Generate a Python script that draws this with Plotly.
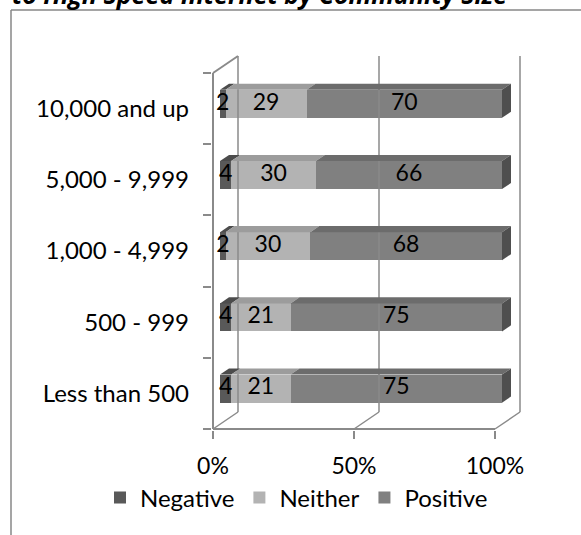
import plotly.graph_objects as go

# ---------------- data ----------------
categories = ["Less than 500", "500 - 999", "1,000 - 4,999", "5,000 - 9,999", "10,000 and up"]
series_names = ["Negative", "Neither", "Positive"]
negative = [4, 4, 2, 4, 2]
neither = [21, 21, 30, 30, 29]
positive = [75, 75, 68, 66, 70]
x_tick_vals = [0, 50, 100]
x_tick_text = ["0%", "50%", "100%"]
title_text = "to High Speed Internet by Community Size"

# ---------------- styling / geometry ----------------
front_colors = ["#595959", "#b3b3b3", "#808080"]
top_colors = ["#4c4c4c", "#9c9c9c", "#6c6c6c"]
side_color = "#4f4f4f"
grid_color = "#8a8a8a"
FONT = "Lato"

W, H = 581, 535
PX_X = 2.82      # pixels per percent
PX_Y = 71.2      # pixels per category
X0_PX = 213      # pixel of x=0 on front plane
YB_PX = 429      # pixel of y=-0.5 on front plane
DX = 25 / PX_X   # depth offset (x units) for full depth
DY = 17 / PX_Y   # depth offset (y units) for full depth
Z0, Z1 = 0.28, 0.64
HALF = 0.197

L, R, T, B = 212, 540, 48, 430
x_range = [(L - X0_PX) / PX_X, (R - X0_PX) / PX_X]
y_range = [(YB_PX - B) / PX_Y - 0.5, (YB_PX - T) / PX_Y - 0.5]


def P(v, c, z):
    return v + z * DX, c + z * DY


fig = go.Figure()


def line(points, width=1.5, color=grid_color):
    fig.add_trace(go.Scatter(x=[p[0] for p in points], y=[p[1] for p in points],
                             mode="lines", line=dict(color=color, width=width),
                             hoverinfo="skip", showlegend=False))


n = len(categories)
# back wall verticals and floor diagonals
for v in x_tick_vals:
    line([P(v, -0.5, 1), P(v, n - 0.5, 1)])
    line([P(v, -0.5, 0), P(v, -0.5, 1)])
# front floor line, front axis, side-wall top edge
line([P(0, -0.5, 0), P(100, -0.5, 0)], width=2)
line([P(0, -0.5, 0), P(0, n - 0.5, 0)], width=2)
line([P(0, n - 0.5, 0), P(0, n - 0.5, 1)], width=2)

data = [negative, neither, positive]
totals = [sum(vals) for vals in zip(*data)]
pct = [[v / t * 100 for v, t in zip(s, totals)] for s in data]
starts = []
acc = [0.0] * n
for s in pct:
    starts.append(acc[:])
    acc = [a + v for a, v in zip(acc, s)]

bx, by = P(0, 0, Z0)
# front faces as bars
for k, name in enumerate(series_names):
    fig.add_trace(go.Bar(
        name=name, orientation="h",
        y=[i + by for i in range(n)], x=pct[k],
        base=[s + bx for s in starts[k]], width=2 * HALF,
        marker=dict(color=front_colors[k], line=dict(width=0)),
        hoverinfo="skip"))

# top faces and right side face
for k in range(3):
    for i in range(n):
        a = starts[k][i]
        b = a + pct[k][i]
        pts = [P(a, i + HALF, Z0), P(b, i + HALF, Z0), P(b, i + HALF, Z1), P(a, i + HALF, Z1), P(a, i + HALF, Z0)]
        fig.add_trace(go.Scatter(x=[p[0] for p in pts], y=[p[1] for p in pts], mode="lines",
                                 fill="toself", fillcolor=top_colors[k], line=dict(width=0),
                                 hoverinfo="skip", showlegend=False))
        if k == 2:
            pts = [P(b, i - HALF, Z0), P(b, i + HALF, Z0), P(b, i + HALF, Z1), P(b, i - HALF, Z1), P(b, i - HALF, Z0)]
            fig.add_trace(go.Scatter(x=[p[0] for p in pts], y=[p[1] for p in pts], mode="lines",
                                     fill="toself", fillcolor=side_color, line=dict(width=0),
                                     hoverinfo="skip", showlegend=False))

# data labels
for k in range(3):
    xs = [starts[k][i] + pct[k][i] / 2 + bx for i in range(n)]
    ys = [i + by for i in range(n)]
    fig.add_trace(go.Scatter(x=xs, y=ys, mode="text", text=[str(v) for v in data[k]],
                             textfont=dict(family=FONT, size=23, color="black"),
                             hoverinfo="skip", showlegend=False, cliponaxis=False))

pw, ph = R - L, B - T


def px_to_paper(px, py):
    return (px - L) / pw, (B - py) / ph


x1, y1 = px_to_paper(11, 10)
x2, y2 = px_to_paper(W + 5, H + 5)
fig.add_shape(type="line", xref="paper", yref="paper", x0=x1, y0=y1, x1=x2, y1=y1,
              line=dict(color="#878787", width=1.5))
fig.add_shape(type="line", xref="paper", yref="paper", x0=x1, y0=y1, x1=x1, y1=y2,
              line=dict(color="#878787", width=1.5))

tx, ty = px_to_paper(10, 13)
fig.add_annotation(text=title_text, xref="paper", yref="paper", x=tx, y=ty,
                   xanchor="left", yanchor="bottom", showarrow=False,
                   font=dict(family="Open Sans", size=25, color="black", style="italic", weight="bold"))

lx, ly = px_to_paper(100, 498)

fig.update_layout(
    width=W, height=H, template="none",
    margin=dict(l=L, r=W - R, t=T, b=H - B, pad=0, autoexpand=False),
    paper_bgcolor="white", plot_bgcolor="rgba(0,0,0,0)",
    barmode="overlay", bargap=0,
    font=dict(family=FONT, size=24, color="black"),
    xaxis=dict(range=x_range, tickvals=x_tick_vals, ticktext=x_tick_text,
               showgrid=False, zeroline=False, showline=False,
               ticks="outside", ticklen=8, tickwidth=1.5, tickcolor=grid_color,
               ticklabelstandoff=7, automargin=False, fixedrange=True,
               tickfont=dict(size=23)),
    yaxis=dict(range=y_range, tickvals=list(range(n)), ticktext=categories,
               showgrid=False, zeroline=False, showline=False, ticks="",
               ticklabelstandoff=22, automargin=False, fixedrange=True,
               minor=dict(tickmode="array", tickvals=[i - 0.5 for i in range(n + 1)],
                          ticks="outside", ticklen=8, tickwidth=1.5, tickcolor=grid_color)),
    legend=dict(orientation="h", xref="paper", yref="paper",
                x=lx, y=ly, xanchor="left", yanchor="middle",
                font=dict(family=FONT, size=24), bgcolor="rgba(0,0,0,0)",
                itemclick=False, itemdoubleclick=False, traceorder="normal"),
    showlegend=True,
)

fig.write_html("out.html", config={"displayModeBar": False},
               post_script="document.body.style.margin='0';")
